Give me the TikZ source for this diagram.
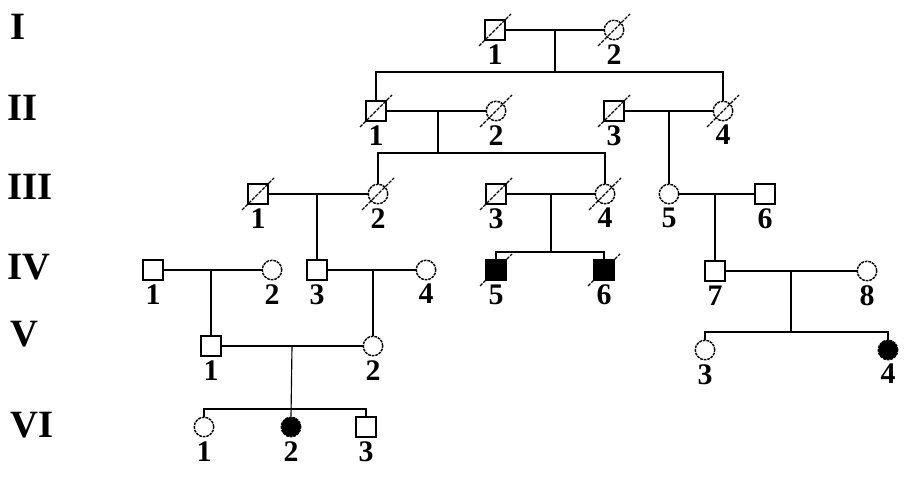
\documentclass[tikz,border=0pt]{standalone}
\usepackage{fontspec}
\setmainfont{Liberation Serif}
\usetikzlibrary{positioning,calc}

\tikzset{
  male/.style={draw, rectangle, minimum size=0.4cm, inner sep=0pt, line width=0.8pt, fill=white},
  female/.style={draw, circle, minimum size=0.39cm, inner sep=0pt, line width=0.8pt,
                 dash pattern=on 1.6pt off 0.5pt, fill=white},
  affected/.style={fill=black},
  num/.style={font=\fontsize{17}{17}\selectfont\bfseries, inner sep=0pt, below=2pt of #1},
  gen/.style={font=\fontsize{22}{22}\selectfont\bfseries, inner sep=0pt, anchor=west},
  thk/.style={line width=1.3pt},
  thn/.style={line width=0.65pt},
  slash/.style={line width=0.65pt, dash pattern=on 2pt off 0.7pt}
}
\newcommand{\dead}[1]{\draw[slash] ($(#1.center)+(-16,16)$) -- ($(#1.center)+(16,-16)$);}

\begin{document}
\begin{tikzpicture}[x=0.02cm, y=-0.02cm]
    \useasboundingbox (0,0) rectangle (909,486);

    % ---- generations ----
    \node[gen] (g1) at (10,27)  {I};
    \node[gen] (g2) at (7,108)  {II};
    \node[gen] (g3) at (7,187)  {III};
    \node[gen] (g4) at (7,267)  {IV};
    \node[gen] (g5) at (10,334) {V};
    \node[gen] (g6) at (10,425) {VI};

    % ---- I ----
    \node[male]   (i1) at (495,30) {};
    \node[female] (i2) at (614,30) {};

    % ---- II ----
    \node[male]   (ii1) at (376,111) {};
    \node[female] (ii2) at (496,111) {};
    \node[male]   (ii3) at (614,111) {};
    \node[female] (ii4) at (723,111) {};

    % ---- III ----
    \node[male]   (iii1) at (258,194) {};
    \node[female] (iii2) at (378,194) {};
    \node[male]   (iii3) at (496,194) {};
    \node[female] (iii4) at (605,194) {};
    \node[female] (iii5) at (669,194) {};
    \node[male]   (iii6) at (765,194) {};

    % ---- IV ----
    \node[male]   (iv1) at (153,270) {};
    \node[female] (iv2) at (272,270) {};
    \node[male]   (iv3) at (317,270) {};
    \node[female] (iv4) at (426,270) {};
    \node[male, affected] (iv5) at (496,270) {};
    \node[male, affected] (iv6) at (604,270) {};
    \node[male]   (iv7) at (715,271) {};
    \node[female] (iv8) at (867,271) {};

    % ---- V ----
    \node[male]   (v1) at (211,346) {};
    \node[female] (v2) at (373,346) {};
    \node[female] (v3) at (705,350) {};
    \node[female, affected] (v4) at (888,350) {};

    % ---- VI ----
    \node[female] (vi1) at (204,427) {};
    \node[female, affected] (vi2) at (291,427) {};
    \node[male]   (vi3) at (366,427) {};

    % ---- numbers ----
    \node[num=i1] (ni1) {1};
    \node[num=i2] (ni2) {2};
    \node[num=ii1] (nii1) {1};
    \node[num=ii2] (nii2) {2};
    \node[num=ii3] (nii3) {3};
    \node[num=ii4] (nii4) {4};
    \node[num=iii1] (niii1) {1};
    \node[num=iii2] (niii2) {2};
    \node[num=iii3] (niii3) {3};
    \node[num=iii4] (niii4) {4};
    \node[num=iii5] (niii5) {5};
    \node[num=iii6] (niii6) {6};
    \node[num=iv1] (niv1) {1};
    \node[num=iv2] (niv2) {2};
    \node[num=iv3] (niv3) {3};
    \node[num=iv4] (niv4) {4};
    \node[num=iv5] (niv5) {5};
    \node[num=iv6] (niv6) {6};
    \node[num=iv7] (niv7) {7};
    \node[num=iv8] (niv8) {8};
    \node[num=v1] (nv1) {1};
    \node[num=v2] (nv2) {2};
    \node[num=v3] (nv3) {3};
    \node[num=v4] (nv4) {4};
    \node[num=vi1] (nvi1) {1};
    \node[num=vi2] (nvi2) {2};
    \node[num=vi3] (nvi3) {3};

    % ---- junctions ----
    \coordinate (c1) at (555,72);
    \coordinate (c2) at (438,153);
    \coordinate (c4) at (551,252);
    \coordinate (c5) at (791,332);
    \coordinate (c6) at (292,409);

    % ---- I -> II ----
    \draw[thk] (i1) -- (i2);
    \draw[thk] (c1 |- i1) -- (c1);
    \draw[thn] (ii1.north) |- (c1) -| (ii4.north);

    % ---- II -> III ----
    \draw[thk] (ii1) -- (ii2);
    \draw[thk] (c2 |- ii1) -- (c2);
    \draw[thn] (iii2.north) |- (c2);
    \draw[thk] (c2) -| (iii4.north);
    \draw[thk] (ii3) -- (ii4);
    \draw[thn] (iii5 |- ii3) -- (iii5.north);

    % ---- III -> IV ----
    \draw[thk] (iii1) -- (iii2);
    \draw[thn] (iv3 |- iii1) -- (iv3.north);
    \draw[thk] (iii3) -- (iii4);
    \draw[thk] (c4 |- iii3) -- (c4);
    \draw[thk] (iv5.north) |- (c4) -| (iv6.north);
    \draw[thk] (iii5) -- (iii6);
    \draw[thk] (iv7 |- iii5) -- (iv7.north);

    % ---- IV -> V ----
    \draw[thk] (iv1) -- (iv2);
    \draw[thk] (v1 |- iv1) -- (v1.north);
    \draw[thk] (iv3) -- (iv4);
    \draw[thn] (v2 |- iv3) -- (v2.north);
    \draw[thn] (iv7) -- (iv8);
    \draw[thn] (c5 |- iv7) -- (c5);
    \draw[thk] (v3.north) |- (c5) -| (v4.north);

    % ---- V -> VI ----
    \draw[thn] (v1) -- (v2);
    \draw[thn] (c6 |- v1) -- (vi2.north);
    \draw[thk] (vi1.north) |- (c6) -| (vi3.north);

    % ---- deceased ----
    \dead{i1} \dead{i2}
    \dead{ii1} \dead{ii2} \dead{ii3} \dead{ii4}
    \dead{iii1} \dead{iii2} \dead{iii3} \dead{iii4}
    \dead{iv5} \dead{iv6}

\end{tikzpicture}
\end{document}
